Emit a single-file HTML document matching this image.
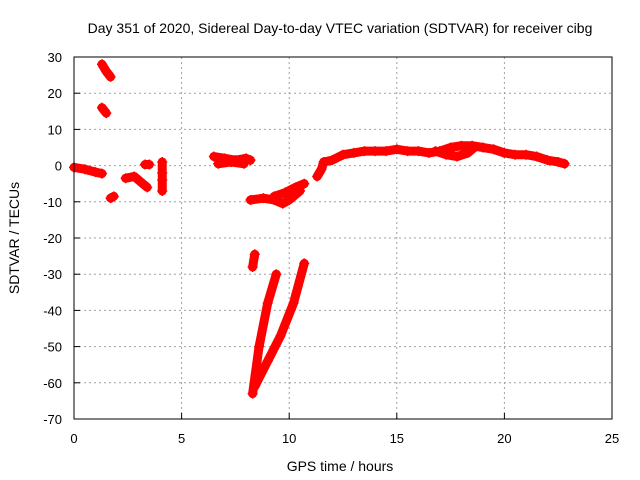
<!DOCTYPE html>
<html><head><meta charset="utf-8"><style>
body{margin:0;background:#fff}
svg{display:block;font-family:"Liberation Sans",sans-serif}
</style></head><body>
<svg id="chart" width="640" height="480">
<text x="340" y="33" font-size="14" text-anchor="middle">Day 351 of 2020, Sidereal Day-to-day VTEC variation (SDTVAR) for receiver cibg</text>
<text x="340" y="471" font-size="14" text-anchor="middle">GPS time / hours</text>
<text transform="translate(19,238) rotate(-90)" font-size="14" text-anchor="middle">SDTVAR / TECUs</text>
<g id="grid"></g><g id="ticks"></g><g id="data"></g>
<rect x="74" y="57" width="538" height="362" fill="none" stroke="#000" stroke-width="1"/>
</svg>
<script>
const xTicks=[0,5,10,15,20,25];
const yTicks=[30,20,10,0,-10,-20,-30,-40,-50,-60,-70];
const segX=[
[0,0.5,1.0,1.3],[1.3,1.5,1.7],[1.3,1.5],[1.7,1.85],[2.4,2.8,3.1,3.4],[3.3,3.5],[4.1,4.1,4.1,4.1],
[6.5,7,7.5,8,8.2],[6.7,7.3,7.9],[8.2,8.8,9.3,9.7,10,10.5],[9.3,9.8,10.3,10.7],[8.3,8.4],
[8.3,8.6,9.0,9.4],[8.4,9.0,9.6,10.2,10.7],
[11.3,11.5,11.6,12,12.5,13,13.5,14,14.5,15,15.5,16,16.5,17,17.5,18,18.5,19,19.5,20,20.5,21,21.5,22,22.5,22.8],
[16.8,17.3,17.8,18.3,18.6]];
const segY=[
[-0.5,-1,-1.8,-2.2],[28,26,24.5],[16,14.5],[-9,-8.5],[-3.5,-3,-4.5,-6],[0.3,0.3],[1,-2,-4,-7],
[2.5,2,1.5,2,1.5],[0.5,1,0.5],[-9.5,-9,-9.5,-10.5,-9.5,-7],[-8.5,-7.5,-6,-5],[-28,-24.5],
[-63,-50,-38,-30],[-61,-54,-47,-38,-27],
[-3,-1,1,1.5,3,3.5,4,4,4,4.5,4,4,3.5,4,5,5.5,5.5,5,4.5,3.5,3,3,2.5,1.5,1,0.5],
[4,3,2.5,3.5,5]];
const X=h=>74+h*538/25, Y=v=>57+(30-v)*362/100;
const NS="http://www.w3.org/2000/svg";
const grid=document.getElementById('grid'),ticks=document.getElementById('ticks'),data=document.getElementById('data');
function mk(tag,attrs,parent){const e=document.createElementNS(NS,tag);for(const k in attrs)e.setAttribute(k,attrs[k]);parent.appendChild(e);return e;}
xTicks.forEach(t=>{
 if(t>0&&t<25){const g=mk('line',{x1:X(t),x2:X(t),y1:57,y2:419,stroke:'#a0a0a0','stroke-dasharray':'2,3'},grid);
 
 }
 const l=mk('text',{x:X(t),y:443,'font-size':13,'text-anchor':'middle'},ticks);l.textContent=t;
 
 
 mk('line',{x1:X(t),x2:X(t),y1:419,y2:413,stroke:'#000'},ticks);
});
yTicks.forEach(t=>{
 if(t<30&&t>-70){const g=mk('line',{x1:74,x2:612,y1:Y(t),y2:Y(t),stroke:'#a0a0a0','stroke-dasharray':'2,3'},grid);
 
 }
 const l=mk('text',{x:62,y:Y(t)+5,'font-size':13,'text-anchor':'end'},ticks);l.textContent=t;
 
 
 mk('line',{x1:74,x2:80,y1:Y(t),y2:Y(t),stroke:'#000'},ticks);
});
segX.forEach((xs,i)=>{
 const ys=segY[i];
 const pts=xs.map((x,j)=>X(x)+','+Y(ys[j])).join(' ');
 const p=mk('polyline',{points:pts,fill:'none',stroke:'#f00','stroke-width':9,'stroke-linecap':'round','stroke-linejoin':'round'},data);
 
 
 xs.forEach((x,j)=>{
  const m=mk('path',{d:`M${X(x)-5},${Y(ys[j])}h10M${X(x)},${Y(ys[j])-5}v10`,stroke:'#f00','stroke-width':1.5},data);
  
  
 });
});
</script>
</body></html>
